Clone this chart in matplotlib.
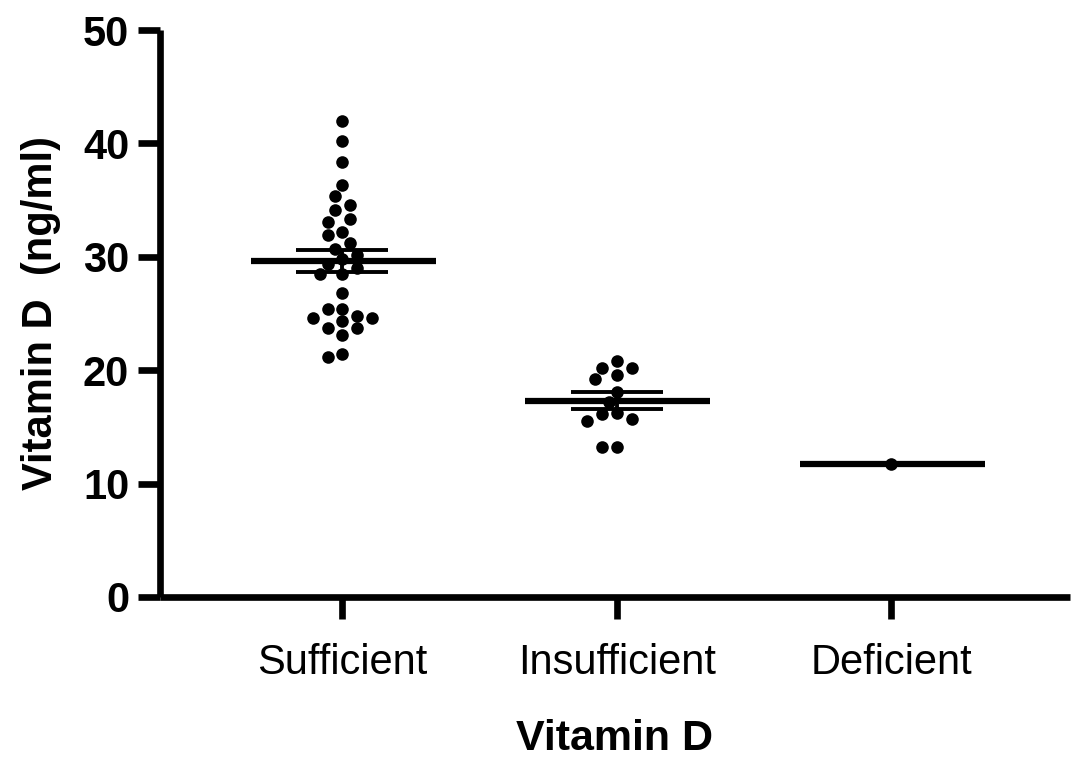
import numpy as np
import matplotlib
matplotlib.use('Agg')
import matplotlib.pyplot as plt

plt.rcParams['font.family'] = ['Liberation Sans', 'DejaVu Sans']

# values (ng/ml)
categories = ['Sufficient', 'Insufficient', 'Deficient']
sufficient = [42.0, 40.2, 38.4, 36.3, 35.4, 34.6, 34.1, 33.3, 33.1, 32.2, 31.9,
              31.2, 30.7, 29.8, 30.2, 29.4, 29.0, 28.5, 28.5, 26.8, 25.4, 25.4,
              24.8, 24.6, 24.6, 24.3, 23.7, 23.7, 23.1, 21.4, 21.2]
insufficient = [20.2, 20.8, 20.2, 19.6, 19.2, 18.1, 17.2, 16.1, 16.2, 15.7,
                15.5, 13.2, 13.2]
deficient = [11.7]
groups = [sufficient, insufficient, deficient]

fig = plt.figure(figsize=(10.72, 7.6), dpi=100)
ax = fig.add_axes([0.149, 0.2145, 0.849, 0.746])
ax.set_xlim(-0.665, 2.65)
ax.set_ylim(0, 50)

# pixels per data unit, used for a simple beeswarm layout
px_x = 0.849 * 1072 / (2.65 + 0.665)
px_y = 0.746 * 760 / 50.0
diam = 12.5
step = 7.4


def swarm(vals):
    order = np.argsort(vals)[::-1]
    placed = []
    offs = np.zeros(len(vals))
    for i in order:
        yp = vals[i] * px_y
        for k in [0, -1, 1, -2, 2, -3, 3, -4, 4, -5, 5, -6, 6]:
            xp = k * step
            if all((xp - a) ** 2 + (yp - b) ** 2 >= (0.95 * diam) ** 2 for a, b in placed):
                break
        placed.append((xp, yp))
        offs[i] = xp / px_x
    return offs


for i, vals in enumerate(groups):
    vals = np.array(vals)
    xs = i + swarm(vals)
    ax.scatter(xs, vals, s=82, color='black', zorder=3, linewidths=0)
    m = vals.mean()
    ax.hlines(m, i - 0.333, i + 0.34, color='black', lw=4.5, zorder=4)
    if len(vals) > 1:
        sem = vals.std(ddof=1) / np.sqrt(len(vals))
        ax.hlines([m - sem, m + sem], i - 0.168, i + 0.168, color='black', lw=2.8, zorder=4)
        ax.vlines(i, m - sem, m + sem, color='black', lw=2.8, zorder=4)

for s in ['top', 'right']:
    ax.spines[s].set_visible(False)
for s in ['left', 'bottom']:
    ax.spines[s].set_linewidth(4.8)
    ax.spines[s].set_capstyle('butt')

ax.set_yticks(range(0, 51, 10))
ax.set_xticks(range(len(categories)))
ax.set_xticklabels(categories)
ax.tick_params(axis='y', length=16, width=4.8, labelsize=30, pad=6)
ax.tick_params(axis='x', length=16, width=4.8, labelsize=30, pad=17)
for lab in ax.get_yticklabels():
    lab.set_fontweight('bold')

ax.set_ylabel('Vitamin D  (ng/ml)', fontsize=30, fontweight='bold', labelpad=16)
ax.set_xlabel('Vitamin D', fontsize=31, fontweight='bold', labelpad=26)

fig.savefig('out.png', dpi=100)
